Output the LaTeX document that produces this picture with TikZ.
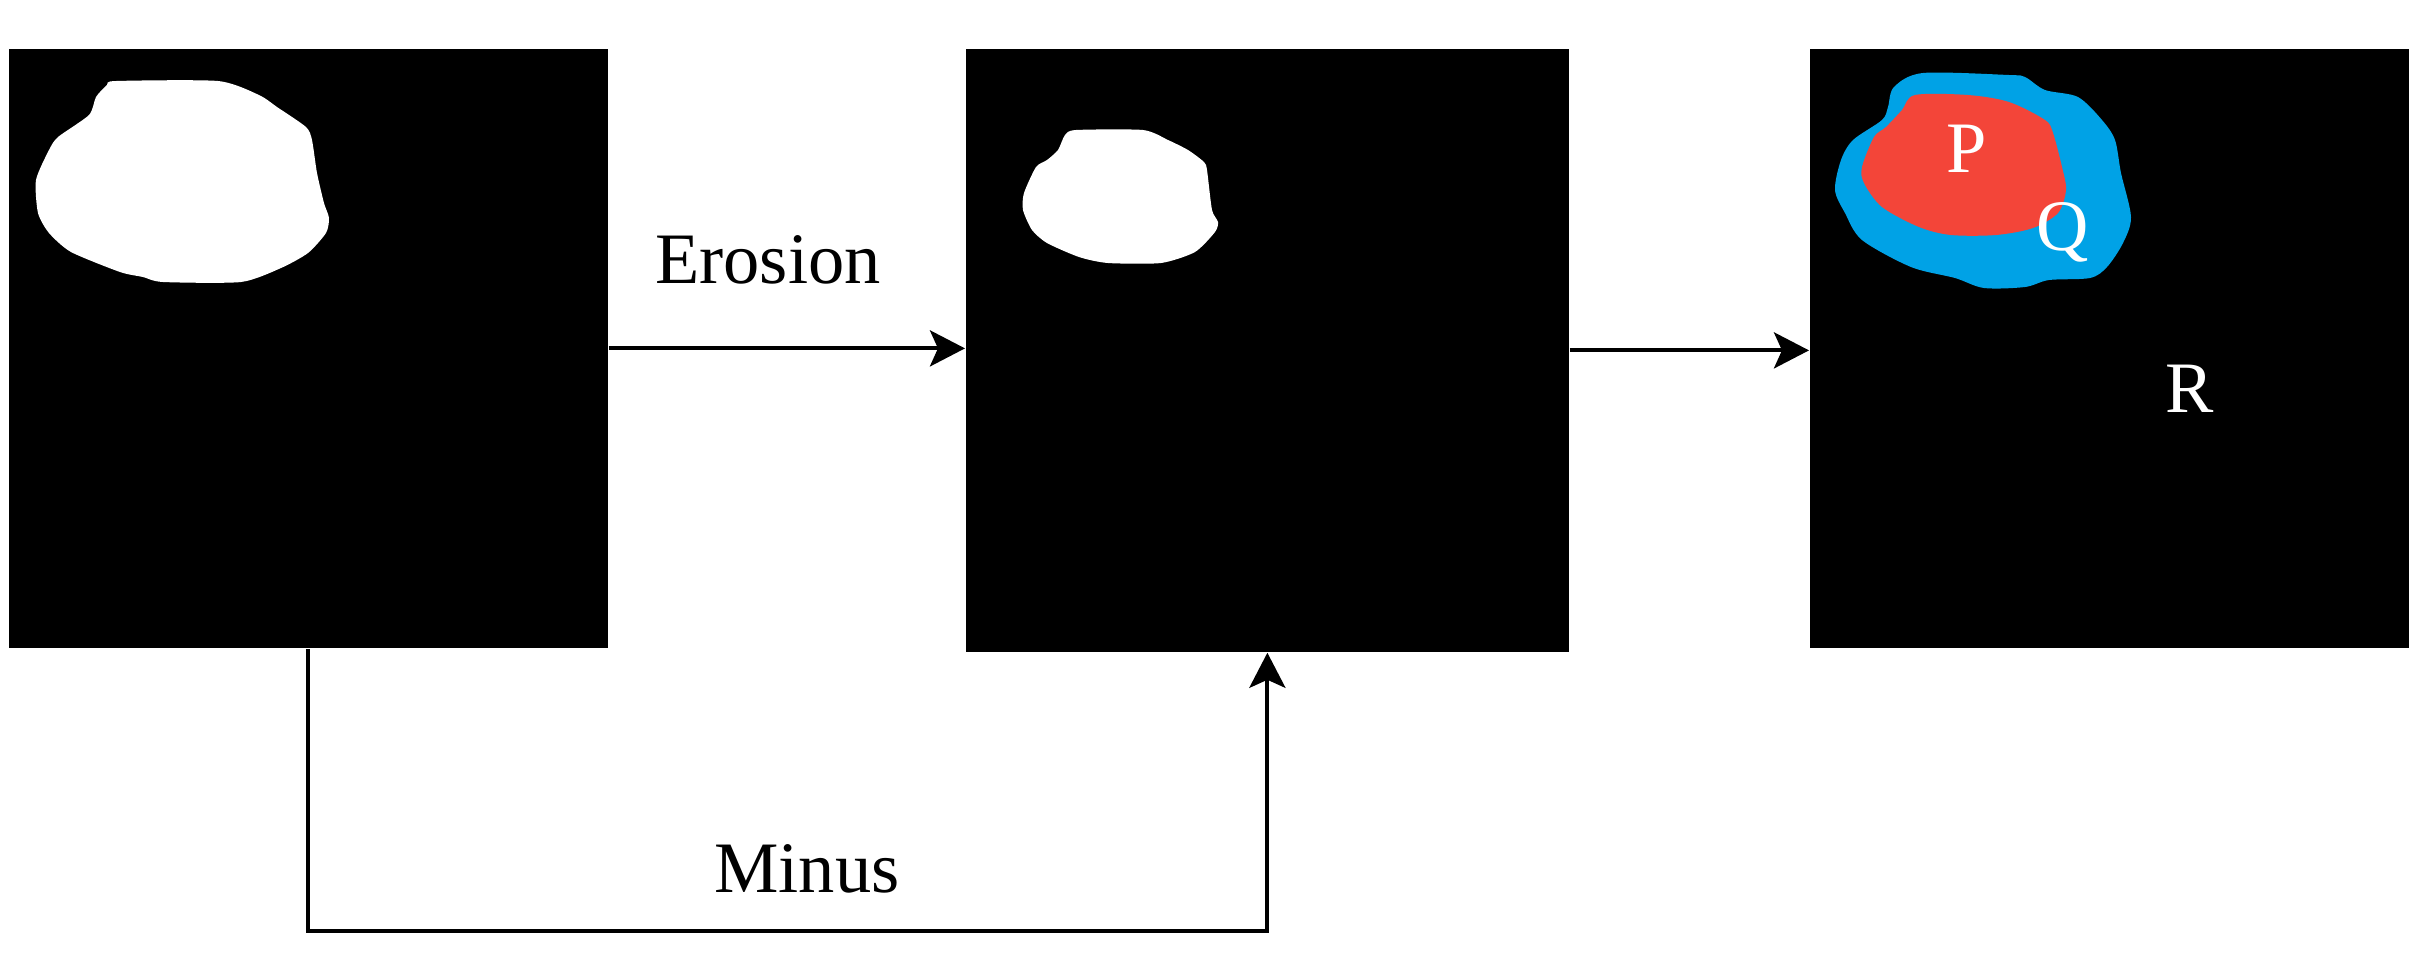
\documentclass[tikz,border=0pt]{standalone}
\usepackage{fontspec}
\setmainfont{Liberation Serif}
\usetikzlibrary{arrows.meta}

\definecolor{regionblue}{RGB}{0,162,230}
\definecolor{regionred}{RGB}{243,69,57}

\tikzset{
    panel/.style={draw=none, fill=black, inner sep=0pt, anchor=north west},
    flow/.style={line width=1.15pt, -{Stealth[length=0.35cm, width=0.36cm, inset=0.08cm, fill=black]}},
    lbl/.style={anchor=base, inner sep=0pt, font=\fontsize{20.6}{24}\selectfont},
}

\begin{document}
\begin{tikzpicture}[x=0.01cm, y=-0.01cm]
        \useasboundingbox (0,0) rectangle (2420,972);

        % the three images
        \node[panel, minimum width=5.99cm, minimum height=5.99cm] (img1) at (8,48) {};
        \node[panel, minimum width=6.03cm, minimum height=6.03cm] (img2) at (965,48) {};
        \node[panel, minimum width=5.99cm, minimum height=5.99cm] (img3) at (1809,48) {};

        % original mask
        \fill[white] plot[smooth cycle, tension=0.4] coordinates {
            (116,81) (218,81) (259,95) (277,107) (306,127) (312,140) (317,173)
            (324,203) (329,218) (326,233) (308,253) (281,268) (241,282) (163,282)
            (143,277) (120,272) (71,252) (49,233) (38,213) (36,180) (49,150)
            (58,137) (89,115) (96,97) (107,85)};

        % eroded mask
        \fill[white] plot[smooth cycle, tension=0.4] coordinates {
            (1076,130) (1143,130) (1168,140) (1188,150) (1204,162) (1207,170)
            (1212,210) (1218,222) (1215,232) (1195,252) (1161,263) (1108,263)
            (1079,257) (1047,243) (1032,230) (1023,210) (1024,193) (1036,167)
            (1047,160) (1058,150) (1065,135)};

        % regions
        \fill[regionblue] plot[smooth cycle, tension=0.5] coordinates {
            (1894,87) (1923,73) (2009,75) (2025,77) (2045,90) (2078,97) (2102,120)
            (2115,140) (2121,173) (2131,217) (2123,243) (2107,267) (2090,278)
            (2049,280) (2025,287) (1984,288) (1955,278) (1911,267) (1862,240)
            (1845,213) (1835,190) (1841,160) (1853,140) (1882,120) (1888,107)};
        \fill[regionred] plot[smooth cycle, tension=0.5] coordinates {
            (1915,95) (1968,95) (2009,102) (2045,120) (2053,133) (2062,167)
            (2066,190) (2058,213) (2033,228) (1996,235) (1951,235) (1919,227)
            (1882,207) (1864,183) (1862,167) (1874,137) (1886,127) (1902,110)};

        \node[lbl, white] (labP) at (1967,172) {P};
        \node[lbl, white] (labQ) at (2063,250) {Q};
        \node[lbl, white] (labR) at (2190,412) {R};

        % connectors
        \draw[flow] (img1.east) -- (img2.west |- img1.east);
        \node[lbl] (erosion) at (768,283) {Erosion};
        \draw[flow] (img2.east) -- (img3.west |- img2.east);
        \draw[flow] (img1.south) -- ++(0,282) -| (img2.south);
        \node[lbl] (minus) at (807,892) {Minus};
    \end{tikzpicture}
\end{document}
